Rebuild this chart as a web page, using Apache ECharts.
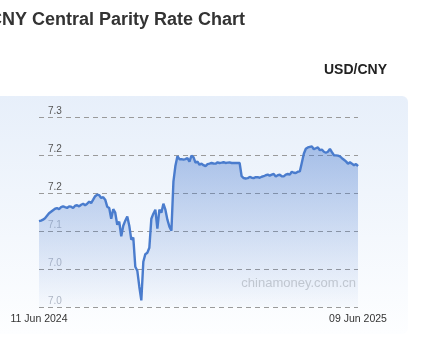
<!DOCTYPE html>
<html><head><meta charset="utf-8">
<script src="https://cdn.jsdelivr.net/npm/echarts@6/dist/echarts.min.js"></script>
<style>html,body{margin:0;padding:0;background:#fff}#c{width:426px;height:359px}</style>
</head><body><div id="c"></div>
<script>
const titleText = 'CNY Central Parity Rate Chart';
const pairLabel = 'USD/CNY';
const watermark = 'chinamoney.com.cn';
const firstDate = '11 Jun 2024';
const lastDate = '09 Jun 2025';
const yMin = 7.00, yMax = 7.25, yStep = 0.05;
const rates = [
7.1129,7.1136,7.1149,7.1168,7.1201,7.1234,7.1254,7.1274,7.1293,7.1300,
7.1289,7.1313,7.1324,7.1313,7.1303,7.1324,7.1320,7.1303,7.1333,7.1339,
7.1324,7.1346,7.1359,7.1339,7.1359,7.1386,7.1368,7.1412,7.1458,7.1478,
7.1471,7.1434,7.1445,7.1412,7.1320,7.1303,7.1162,7.1287,7.1241,7.1083,
7.1122,7.0929,7.1070,7.1136,7.1192,7.1070,7.0886,7.0912,7.0530,7.0478,
7.0267,7.0087,7.0596,7.0695,7.0714,7.0780,7.1162,7.1228,7.1280,7.1030,
7.1280,7.1241,7.1359,7.1280,7.1149,7.1057,7.1004,7.1649,7.1859,7.1984,
7.1945,7.1945,7.1938,7.1945,7.1958,7.1912,7.1991,7.1971,7.1899,7.1912,
7.1872,7.1886,7.1866,7.1853,7.1879,7.1886,7.1895,7.1888,7.1886,7.1903,
7.1895,7.1899,7.1905,7.1895,7.1899,7.1903,7.1895,7.1896,7.1895,7.1895,
7.1895,7.1721,7.1697,7.1691,7.1695,7.1711,7.1701,7.1697,7.1708,7.1708,
7.1701,7.1714,7.1721,7.1734,7.1741,7.1728,7.1741,7.1750,7.1718,7.1734,
7.1741,7.1721,7.1718,7.1741,7.1750,7.1741,7.1780,7.1767,7.1763,7.1780,
7.1784,7.1899,7.2017,7.2083,7.2100,7.2107,7.2113,7.2076,7.2089,7.2100,
7.2063,7.2070,7.2043,7.2030,7.2043,7.2080,7.2037,7.1997,7.1995,7.1991,
7.1982,7.1958,7.1938,7.1916,7.1886,7.1903,7.1886,7.1866,7.1882,7.1853
];
const categories = rates.map((v, i) => i === 0 ? firstDate : (i === rates.length - 1 ? lastDate : 'd' + i));

const chart = echarts.init(document.getElementById('c'), null, {renderer: 'canvas'});
const narrow = "'Liberation Sans Narrow', 'Arial Narrow', 'Liberation Sans', Arial, sans-serif";
chart.setOption({
  animation: false,
  backgroundColor: '#ffffff',
  graphic: [
    {type: 'rect', z: -100, shape: {x: -8, y: 96, width: 416, height: 238, r: 6},
     style: {fill: new echarts.graphic.LinearGradient(0, 0, 0, 1, [
       {offset: 0, color: '#e7effa'}, {offset: 1, color: '#fdfeff'}])}},
    {type: 'text', x: 245, y: 20, z: 10,
     style: {text: titleText, font: "bold 18px 'Liberation Sans', Arial, sans-serif", fill: '#333333', align: 'right', verticalAlign: 'middle'}},
    {type: 'text', x: 387, y: 70, z: 10,
     style: {text: pairLabel, font: "bold 14px 'Liberation Sans', Arial, sans-serif", fill: '#222222', align: 'right', verticalAlign: 'middle'}},
    {type: 'text', x: 356, y: 283, z: 100,
     style: {text: watermark, font: "13px 'Liberation Sans', Arial, sans-serif", fill: 'rgba(190,196,206,0.95)', align: 'right', verticalAlign: 'middle'}}
  ],
  grid: {left: 39, right: 68, top: 117, bottom: 52, containLabel: false},
  xAxis: {
    type: 'category', data: categories, boundaryGap: false,
    axisLine: {show: false}, axisTick: {show: false}, splitLine: {show: false},
    axisLabel: {
      interval: (i) => i === 0 || i === rates.length - 1,
      showMinLabel: true, showMaxLabel: true,
      margin: 7, color: '#333333', fontSize: 10.5, fontFamily: narrow
    }
  },
  yAxis: {
    type: 'value', min: yMin, max: yMax, interval: yStep,
    axisLine: {show: false}, axisTick: {show: false},
    splitLine: {show: true, lineStyle: {color: '#9a9a9a', type: [5, 4], width: 1}},
    axisLabel: {
      inside: true, margin: 9, verticalAlign: 'bottom', align: 'left',
      fontSize: 10, fontFamily: narrow, padding: [0, 0, 1, 0],
      formatter: (v) => v.toFixed(1),
      color: (v) => (v >= 7.149 ? '#555555' : '#b3b9c4')
    }
  },
  series: [{
    type: 'line', data: rates, showSymbol: false, z: 5,
    lineStyle: {color: '#4a7ccd', width: 2.4},
    itemStyle: {color: '#4a7ccd'},
    areaStyle: {color: new echarts.graphic.LinearGradient(0, 0, 0, 1, [
      {offset: 0, color: 'rgba(70,120,205,0.6)'},
      {offset: 1, color: 'rgba(70,120,205,0.04)'}])}
  }]
});
</script></body></html>
